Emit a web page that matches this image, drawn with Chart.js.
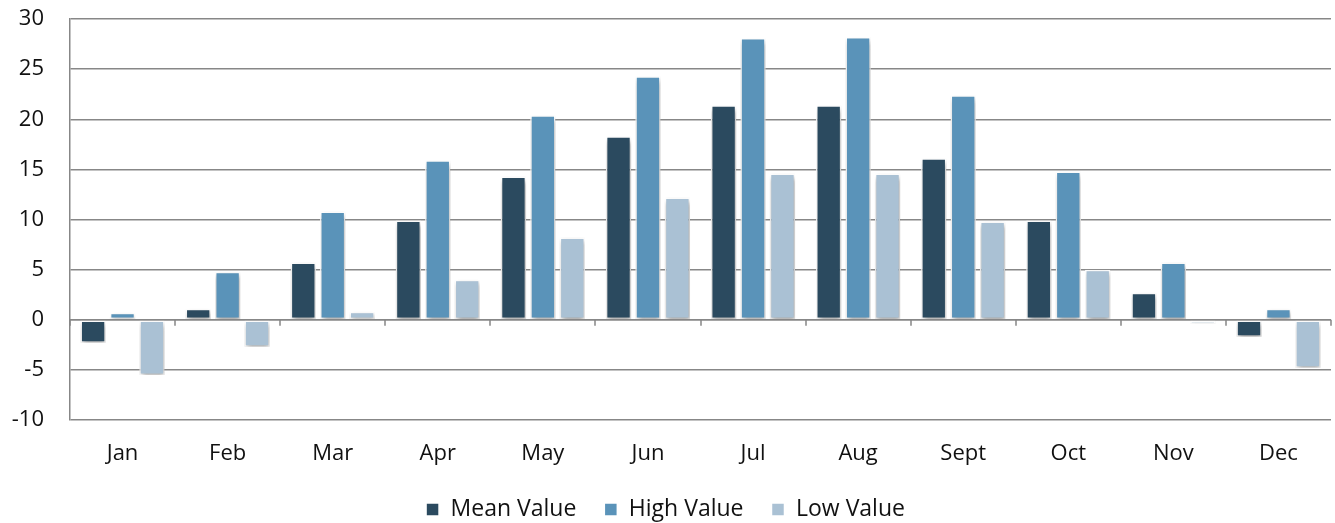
<!DOCTYPE html>
<html>
<head>
<meta charset="utf-8">
<script src="https://cdn.jsdelivr.net/npm/chart.js@4.4.0/dist/chart.umd.min.js"></script>
<style>
  html, body { margin: 0; padding: 0; background: #fff; }
  #wrap { width: 1335px; height: 523px; }
</style>
</head>
<body>
<div id="wrap"><canvas id="grafico"></canvas></div>
<script>
// Dados
const meses = ['Jan', 'Feb', 'Mar', 'Apr', 'May', 'Jun', 'Jul', 'Aug', 'Sept', 'Oct', 'Nov', 'Dec'];
const mediaValores = [-2.3, 1.1, 5.7, 9.9, 14.3, 18.3, 21.4, 21.4, 16.1, 9.9, 2.7, -1.7];
const altaValores = [0.7, 4.8, 10.8, 15.9, 20.4, 24.3, 28.1, 28.2, 22.4, 14.8, 5.7, 1.1];
const baixaValores = [-5.5, -2.7, 0.8, 4.0, 8.2, 12.2, 14.6, 14.6, 9.8, 5.0, -0.4, -4.8];
const ticksY = [-10, -5, 0, 5, 10, 15, 20, 25, 30];

const fonte = "'Open Sans', 'DejaVu Sans', sans-serif";
const cinza = '#878787';

// Sombra nas barras
const sombraPlugin = {
    id: 'sombra',
    beforeDatasetsDraw: function(chart) {
        const ctx = chart.ctx;
        ctx.save();
        ctx.shadowColor = 'rgba(0,0,0,0.35)';
        ctx.shadowBlur = 5;
        ctx.shadowOffsetX = 1;
        ctx.shadowOffsetY = 3;
    },
    afterDatasetsDraw: function(chart) {
        chart.ctx.restore();
    }
};

// Eixo em zero com marcas entre categorias
const eixoZeroPlugin = {
    id: 'eixoZero',
    afterDatasetsDraw: function(chart) {
        const ctx = chart.ctx;
        const x = chart.scales.x;
        const y = chart.scales.y;
        const y0 = y.getPixelForValue(0);
        ctx.save();
        ctx.strokeStyle = cinza;
        ctx.lineWidth = 1.5;
        ctx.beginPath();
        ctx.moveTo(x.left, y0);
        ctx.lineTo(x.right, y0);
        for (let i = 0; i <= meses.length; i++) {
            const px = Math.round(x.left + (x.right - x.left) * i / meses.length);
            ctx.moveTo(px, y0);
            ctx.lineTo(px, y0 + 6);
        }
        ctx.stroke();
        ctx.restore();
    }
};

const comum = {
    borderColor: '#ffffff',
    borderWidth: 1.5,
    borderSkipped: false,
    categoryPercentage: 0.84,
    barPercentage: 0.86
};

new Chart(document.getElementById('grafico').getContext('2d'), {
    type: 'bar',
    data: {
        labels: meses,
        datasets: [
            Object.assign({ label: 'Mean Value', data: mediaValores, backgroundColor: '#2b4a5f' }, comum),
            Object.assign({ label: 'High Value', data: altaValores, backgroundColor: '#5a93b9' }, comum),
            Object.assign({ label: 'Low Value', data: baixaValores, backgroundColor: '#aac1d4' }, comum)
        ]
    },
    options: {
        responsive: true,
        maintainAspectRatio: false,
        animation: false,
        layout: { padding: { top: 0, right: 4, bottom: -8, left: 0 } },
        plugins: {
            legend: {
                position: 'bottom',
                labels: {
                    boxWidth: 13,
                    boxHeight: 13,
                    padding: 28,
                    color: '#111',
                    font: { family: fonte, size: 23 }
                }
            },
            tooltip: { enabled: false }
        },
        scales: {
            x: {
                afterFit: function(scale) { scale.height = 50; },
                grid: { display: false, drawTicks: false },
                border: { display: false },
                ticks: {
                    color: '#111',
                    padding: 21,
                    font: { family: fonte, size: 22 }
                }
            },
            y: {
                min: -10,
                max: 30,
                afterFit: function(scale) {
                    scale.width = 70;
                    scale.paddingTop = 19;
                    scale.paddingBottom = 0;
                },
                afterBuildTicks: function(scale) {
                    scale.ticks = ticksY.map(function(v) { return { value: v }; });
                },
                grid: { color: cinza, lineWidth: 1.5, drawTicks: false },
                border: { display: true, color: cinza, width: 1.5 },
                ticks: {
                    color: '#111',
                    padding: 26,
                    font: { family: fonte, size: 22 }
                }
            }
        }
    },
    plugins: [sombraPlugin, eixoZeroPlugin]
});
</script>
</body>
</html>
